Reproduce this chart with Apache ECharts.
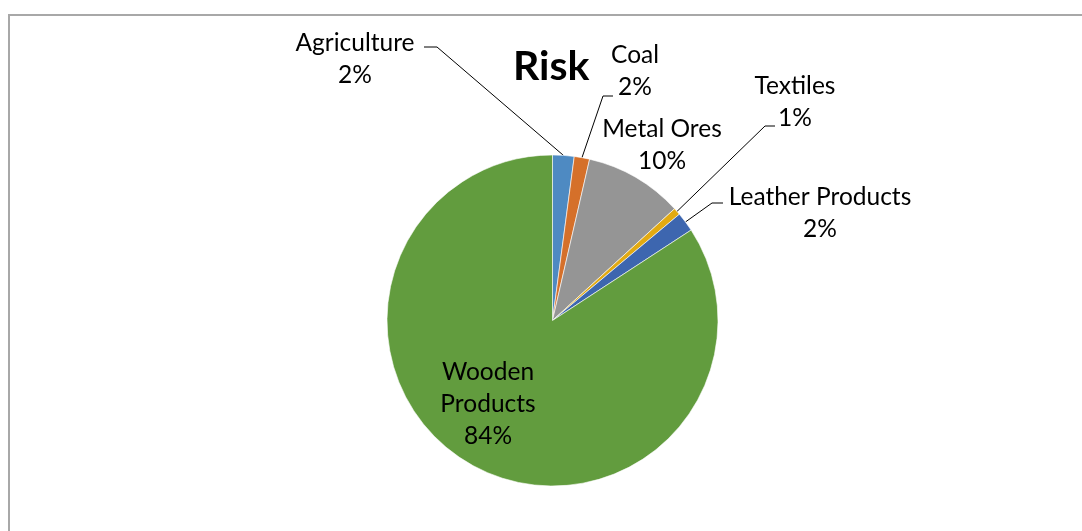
<!DOCTYPE html>
<html>
<head>
<meta charset="utf-8">
<script src="https://cdn.jsdelivr.net/npm/echarts@6/dist/echarts.min.js"></script>
<style>
html,body{margin:0;padding:0;background:#fff;}
#chart{width:1082px;height:531px;}
</style>
</head>
<body>
<div id="chart"></div>
<script>
const categories = ['Agriculture', 'Coal', 'Metal Ores', 'Textiles', 'Leather Products', 'Wooden Products'];
const values = [2.1, 1.5, 9.6, 0.7, 1.9, 84.2];
const colors = ['#4E8AC2', '#D5702A', '#959595', '#E2AA12', '#3D66AF', '#629C3E'];
const titleText = 'Risk';

// label placement (text block centre) and leader-line elbow/end, per category
const labelPos = [
  { x: 355, y: 59, line: [[437, 47], [424, 47]] },
  { x: 635, y: 71, line: [[603, 96], [613, 96]] },
  { x: 662, y: 145, line: null },
  { x: 795, y: 102, line: [[765, 126], [775, 126]] },
  { x: 820, y: 213, line: [[712, 203], [723, 203]] },
  { x: 488, y: 404, line: null }
];

const total = values.reduce((a, b) => a + b, 0);
const FONT = 'Lato';

const chart = echarts.init(document.getElementById('chart'), null, { renderer: 'canvas' });
const cx = 552.5, cy = 320.5, R = 165.5;

const data = categories.map((c, i) => ({
  name: c,
  value: values[i],
  itemStyle: { color: colors[i] },
  labelLine: { show: !!labelPos[i].line }
}));

chart.setOption({
  animation: false,
  backgroundColor: '#fff',
  title: {
    text: titleText,
    left: 508,
    top: 41,
    textStyle: { fontFamily: FONT, fontWeight: 'bold', fontSize: 41, color: '#000' }
  },
  graphic: [{
    type: 'rect',
    shape: { x: 9, y: 15, width: 2000, height: 2000 },
    style: { fill: 'none', stroke: '#a8a8a8', lineWidth: 2 },
    silent: true
  }],
  series: [{
    type: 'pie',
    center: [cx, cy],
    radius: [0, R],
    startAngle: 90,
    clockwise: true,
    avoidLabelOverlap: false,
    data: data,
    itemStyle: { borderColor: '#ffffff', borderWidth: 0.6 },
    emphasis: { disabled: true },
    label: {
      show: true,
      position: 'outside',
      formatter: p => p.name.replace('Wooden Products', 'Wooden\nProducts') + '\n' + Math.round(p.value / total * 100 + 1e-6) + '%',
      fontFamily: FONT,
      fontSize: 24.5,
      lineHeight: 32,
      color: '#000',
      align: 'center'
    },
    labelLine: {
      show: true,
      length: 10,
      length2: 10,
      lineStyle: { color: '#000', width: 1 }
    },
    labelLayout: function (params) {
      const i = params.dataIndex;
      const lp = labelPos[i];
      const out = { x: lp.x, y: lp.y, align: 'center', verticalAlign: 'middle', hideOverlap: false, moveOverlap: null };
      if (lp.line) {
        let start = params.labelLinePoints && params.labelLinePoints[0];
        if (!start) {
          let acc = 0;
          for (let k = 0; k < i; k++) acc += values[k];
          const mid = (acc + values[i] / 2) / total * Math.PI * 2;
          start = [cx + R * Math.sin(mid), cy - R * Math.cos(mid)];
        }
        out.labelLinePoints = [start, lp.line[0], lp.line[1]];
      }
      return out;
    }
  }]
});
</script>
</body>
</html>
